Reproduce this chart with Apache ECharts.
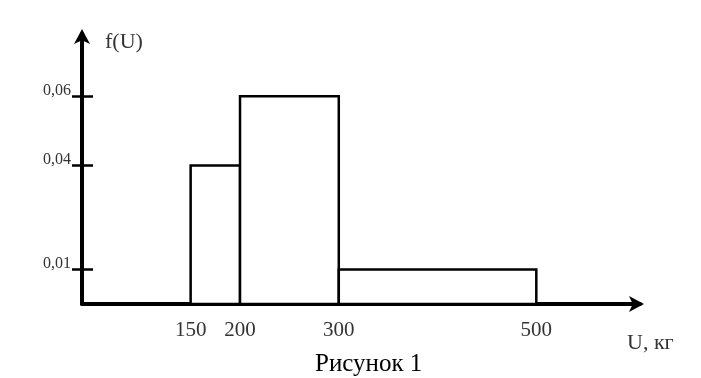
<!doctype html>
<html lang="ru">
<head>
<meta charset="UTF-8" />
<title>Рисунок 1</title>
<script src="https://cdn.jsdelivr.net/npm/echarts@6/dist/echarts.min.js"></script>
<style>
  html, body { margin: 0; background: #fff; }
  #chart { width: 701px; height: 378px; }
</style>
</head>
<body>
<div id="chart"></div>
<script>
// histogram: interval edges and density f(U)
var binStart = [150, 200, 300];
var binEnd = [200, 300, 500];
var density = [0.04, 0.06, 0.01];
// labelled ticks
var xTicks = [150, 200, 300, 500];
var yTicks = [0.01, 0.04, 0.06];

var serif = 'Liberation Serif';
var bins = binStart.map(function (s, i) { return [s, binEnd[i], density[i]]; });

var chart = echarts.init(document.getElementById('chart'), null, { renderer: 'canvas' });

function arrowLine(tipOffset) {
  return {
    show: true,
    symbol: ['none', 'arrow'],
    symbolSize: [12, 15],
    symbolOffset: [0, tipOffset],
    lineStyle: { color: '#000', width: 4 }
  };
}

chart.setOption({
  backgroundColor: '#fff',
  animation: false,
  title: {
    text: 'Рисунок 1',
    left: 310,
    top: 347,
    textStyle: { fontFamily: serif, fontSize: 25, fontWeight: 'normal', color: '#000' }
  },
  grid: { left: 82, right: 61, top: 34, bottom: 74 },
  xAxis: {
    type: 'value',
    min: 40,
    max: 605,
    name: 'U, кг',
    nameLocation: 'end',
    nameGap: -13,
    nameTextStyle: {
      fontFamily: serif, fontSize: 22, color: '#333',
      align: 'left', verticalAlign: 'top', padding: [28, 0, 0, 0]
    },
    axisLine: arrowLine(4),
    axisTick: { show: false },
    splitLine: { show: false },
    axisLabel: {
      customValues: xTicks,
      fontFamily: serif, fontSize: 21, color: '#333', margin: 16
    }
  },
  yAxis: [
    {
      type: 'value',
      min: 0,
      max: 0.078,
      name: 'f(U)',
      nameLocation: 'end',
      nameGap: -8,
      nameTextStyle: {
        fontFamily: serif, fontSize: 22, color: '#333',
        align: 'left', verticalAlign: 'middle', padding: [0, 0, 0, 23]
      },
      axisLine: arrowLine(5),
      axisTick: {
        show: true, customValues: yTicks, length: 10,
        lineStyle: { color: '#000', width: 2.5 }
      },
      splitLine: { show: false },
      axisLabel: {
        customValues: yTicks,
        formatter: function (v) { return v.toFixed(2).replace('.', ','); },
        fontFamily: serif, fontSize: 16, color: '#333', margin: 11,
        verticalAlign: 'bottom', lineHeight: 12
      }
    },
    {
      // inner half of the ticks that cross the axis
      type: 'value',
      min: 0,
      max: 0.078,
      position: 'left',
      axisLine: { show: false },
      axisTick: {
        show: true, inside: true, customValues: yTicks, length: 11,
        lineStyle: { color: '#000', width: 2.5 }
      },
      axisLabel: { show: false },
      splitLine: { show: false }
    }
  ],
  series: [
    {
      type: 'custom',
      data: bins,
      encode: { x: [0, 1], y: 2 },
      renderItem: function (params, api) {
        var p0 = api.coord([api.value(0), api.value(2)]);
        var p1 = api.coord([api.value(1), 0]);
        return {
          type: 'rect',
          shape: { x: p0[0], y: p0[1], width: p1[0] - p0[0], height: p1[1] - p0[1] },
          style: { fill: '#fff', stroke: '#000', lineWidth: 2.5 }
        };
      }
    }
  ]
});
</script>
</body>
</html>
